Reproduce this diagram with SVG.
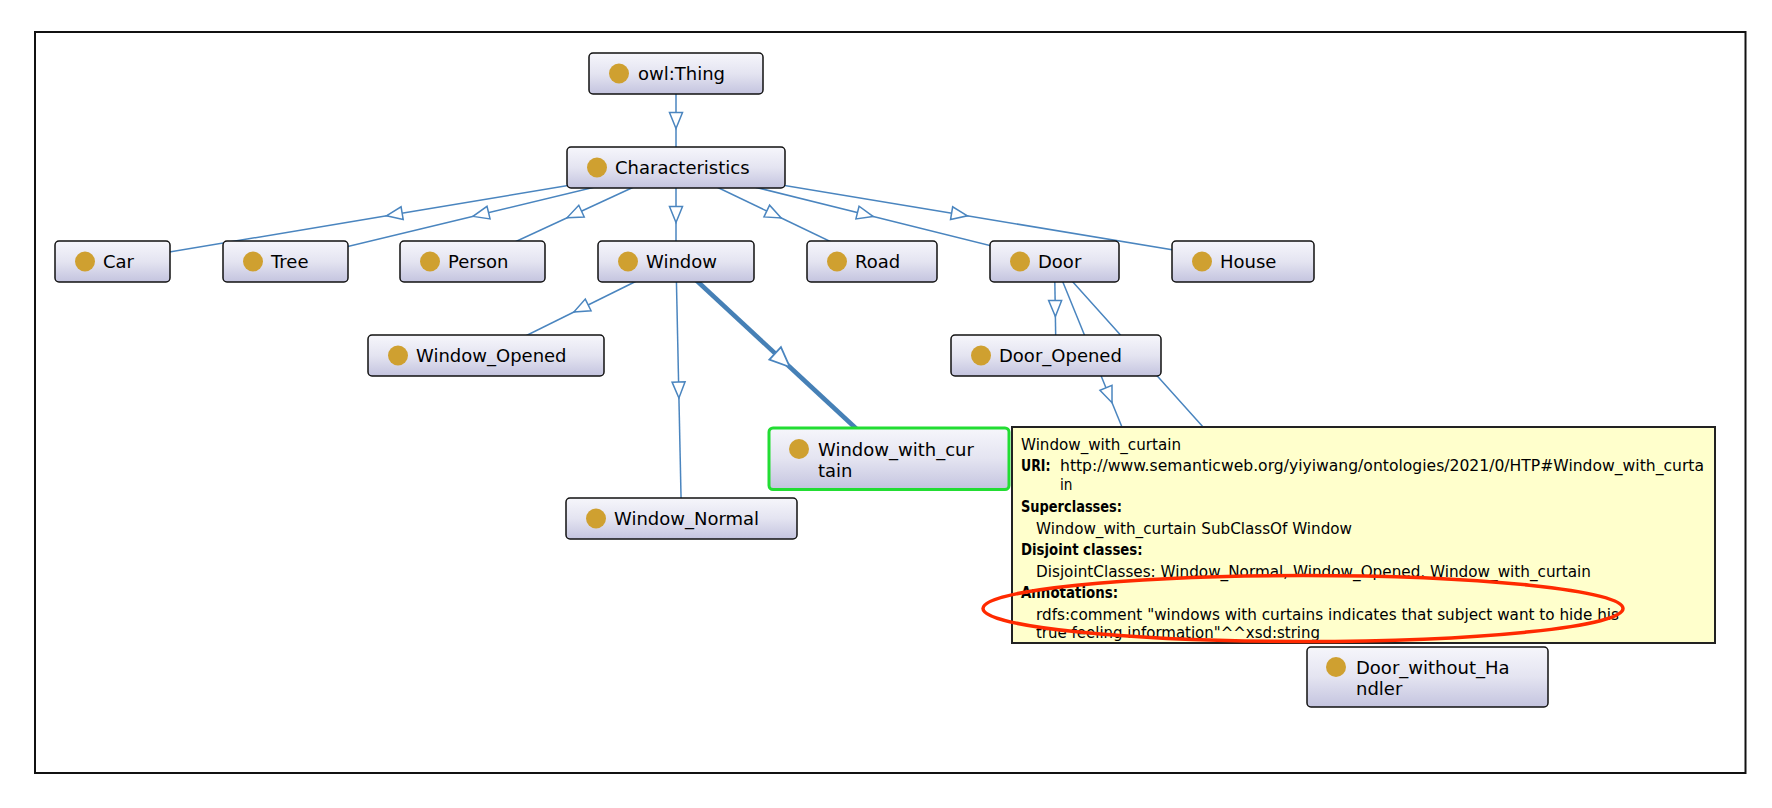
<svg xmlns="http://www.w3.org/2000/svg" width="1772" height="808" viewBox="0 0 1772 808">
<defs>
<style>
.node rect.box{fill:url(#ng);stroke:#111;stroke-width:1.5}
.node circle{fill:#cfa030}
.lbl{font-family:"DejaVu Sans","Verdana",sans-serif;font-size:18px;fill:#000}
.edge{fill:none;stroke:#4a85bf;stroke-width:1.5;marker-mid:url(#tri)}
.edge.sel{stroke:#4680b6;stroke-width:4.5;marker-mid:url(#triBig)}
.tt{font-family:"DejaVu Sans","Verdana",sans-serif;font-size:15px;fill:#000}
.tt.b{font-weight:bold}
</style>
<linearGradient id="ng" x1="0" y1="0" x2="0" y2="1">
<stop offset="0" stop-color="#f6f6fb"/>
<stop offset="0.5" stop-color="#e4e4f1"/>
<stop offset="1" stop-color="#c4c4df"/>
</linearGradient>
<marker id="tri" markerUnits="userSpaceOnUse" markerWidth="24" markerHeight="24" viewBox="-12 -12 24 24" refX="0" refY="0" orient="auto">
<path d="M8,0 L-8,-6.5 L-8,6.5 Z" fill="#fff" stroke="#4a85bf" stroke-width="1.5"/>
</marker>
<marker id="triBig" markerUnits="userSpaceOnUse" markerWidth="30" markerHeight="30" viewBox="-15 -15 30 30" refX="0" refY="0" orient="auto">
<path d="M10,0 L-10,-8.5 L-10,8.5 Z" fill="#fff" stroke="#4a85bf" stroke-width="1.8"/>
</marker>
</defs>
<rect x="0" y="0" width="1772" height="808" fill="#fff"/>
<rect id="frame" x="35" y="32" width="1710.5" height="741" fill="none" stroke="#111" stroke-width="2"/>
<g id="connectors">
<polyline class="edge" points="676,73.5 676,120.5 676,167.5"/>
<polyline class="edge" points="676,167.5 394.25,214.5 112.5,261.5"/>
<polyline class="edge" points="676,167.5 480.75,214.5 285.5,261.5"/>
<polyline class="edge" points="676,167.5 574.25,214.5 472.5,261.5"/>
<polyline class="edge" points="676,167.5 676,214.5 676,261.5"/>
<polyline class="edge" points="676,167.5 774,214.5 872,261.5"/>
<polyline class="edge" points="676,167.5 865.25,214.5 1054.5,261.5"/>
<polyline class="edge" points="676,167.5 959.5,214.5 1243,261.5"/>
<polyline class="edge" points="676,261.5 581,308.5 486,355.5"/>
<polyline class="edge" points="676,261.5 678.75,390 681.5,518.5"/>
<polyline class="edge sel" points="676,261.5 782.5,360.25 889,459"/>
<polyline class="edge" points="1054.5,261.5 1055.25,308.5 1056,355.5"/>
<polyline class="edge" points="1054.5,261.5 1109,395.25 1163.5,529"/>
<polyline class="edge" points="1054.5,261.5 1241,469.25 1358.4,600"/>
</g>
<g id="owl_Thing" class="node"><rect class="box" x="589" y="53" width="174" height="41" rx="4"/><circle cx="619" cy="73.5" r="10"/><text class="lbl" x="638" y="80">owl:Thing</text></g>
<g id="Characteristics" class="node"><rect class="box" x="567" y="147" width="218" height="41" rx="4"/><circle cx="597" cy="167.5" r="10"/><text class="lbl" x="615" y="174">Characteristics</text></g>
<g id="Car" class="node"><rect class="box" x="55" y="241" width="115" height="41" rx="4"/><circle cx="85" cy="261.5" r="10"/><text class="lbl" x="103" y="268">Car</text></g>
<g id="Tree" class="node"><rect class="box" x="223" y="241" width="125" height="41" rx="4"/><circle cx="253" cy="261.5" r="10"/><text class="lbl" x="271" y="268">Tree</text></g>
<g id="Person" class="node"><rect class="box" x="400" y="241" width="145" height="41" rx="4"/><circle cx="430" cy="261.5" r="10"/><text class="lbl" x="448" y="268">Person</text></g>
<g id="Window" class="node"><rect class="box" x="598" y="241" width="156" height="41" rx="4"/><circle cx="628" cy="261.5" r="10"/><text class="lbl" x="646" y="268">Window</text></g>
<g id="Road" class="node"><rect class="box" x="807" y="241" width="130" height="41" rx="4"/><circle cx="837" cy="261.5" r="10"/><text class="lbl" x="855" y="268">Road</text></g>
<g id="Door" class="node"><rect class="box" x="990" y="241" width="129" height="41" rx="4"/><circle cx="1020" cy="261.5" r="10"/><text class="lbl" x="1038" y="268">Door</text></g>
<g id="House" class="node"><rect class="box" x="1172" y="241" width="142" height="41" rx="4"/><circle cx="1202" cy="261.5" r="10"/><text class="lbl" x="1220" y="268">House</text></g>
<g id="Window_Opened" class="node"><rect class="box" x="368" y="335" width="236" height="41" rx="4"/><circle cx="398" cy="355.5" r="10"/><text class="lbl" x="416" y="362">Window_Opened</text></g>
<g id="Window_Normal" class="node"><rect class="box" x="566" y="498" width="231" height="41" rx="4"/><circle cx="596" cy="518.5" r="10"/><text class="lbl" x="614" y="525">Window_Normal</text></g>
<g id="Door_Opened" class="node"><rect class="box" x="951" y="335" width="210" height="41" rx="4"/><circle cx="981" cy="355.5" r="10"/><text class="lbl" x="999" y="362">Door_Opened</text></g>
<g id="Window_with_curtain" class="node"><rect class="box" x="769" y="428" width="240" height="61.5" rx="4" style="stroke:#22dd33;stroke-width:3"/><circle cx="799" cy="449" r="10"/><text class="lbl" x="818" y="455.5">Window_with_cur</text><text class="lbl" x="818" y="477">tain</text></g>
<g id="Door_without_Handler" class="node"><rect class="box" x="1307" y="647" width="241" height="60" rx="4"/><circle cx="1336" cy="667" r="10"/><text class="lbl" x="1356" y="673.5">Door_without_Ha</text><text class="lbl" x="1356" y="695">ndler</text></g>
<g id="tooltip">
<rect x="1012" y="427" width="703" height="216" fill="#ffffcc" stroke="#222" stroke-width="2"/>
<text class="tt" x="1021" y="450" textLength="160" lengthAdjust="spacingAndGlyphs">Window_with_curtain</text>
<text class="tt b" x="1021" y="471" textLength="29.5" lengthAdjust="spacingAndGlyphs">URI:</text>
<text class="tt" x="1060" y="471" textLength="644" lengthAdjust="spacingAndGlyphs">http://www.semanticweb.org/yiyiwang/ontologies/2021/0/HTP#Window_with_curta</text>
<text class="tt" x="1060" y="490" textLength="12.5" lengthAdjust="spacingAndGlyphs">in</text>
<text class="tt b" x="1021" y="512" textLength="101" lengthAdjust="spacingAndGlyphs">Superclasses:</text>
<text class="tt" x="1036" y="534" textLength="316" lengthAdjust="spacingAndGlyphs">Window_with_curtain SubClassOf Window</text>
<text class="tt b" x="1021" y="555" textLength="121.5" lengthAdjust="spacingAndGlyphs">Disjoint classes:</text>
<text class="tt" x="1036" y="577" textLength="555" lengthAdjust="spacingAndGlyphs">DisjointClasses: Window_Normal, Window_Opened, Window_with_curtain</text>
<text class="tt b" x="1021" y="598" textLength="97" lengthAdjust="spacingAndGlyphs">Annotations:</text>
<text class="tt" x="1036" y="620" textLength="583" lengthAdjust="spacingAndGlyphs">rdfs:comment "windows with curtains indicates that subject want to hide his</text>
<text class="tt" x="1036" y="638" textLength="284" lengthAdjust="spacingAndGlyphs">true feeling information"^^xsd:string</text>
</g>
<ellipse id="highlight" cx="1303" cy="608.5" rx="320" ry="33" fill="none" stroke="#ff2a00" stroke-width="3.5"/>
</svg>
